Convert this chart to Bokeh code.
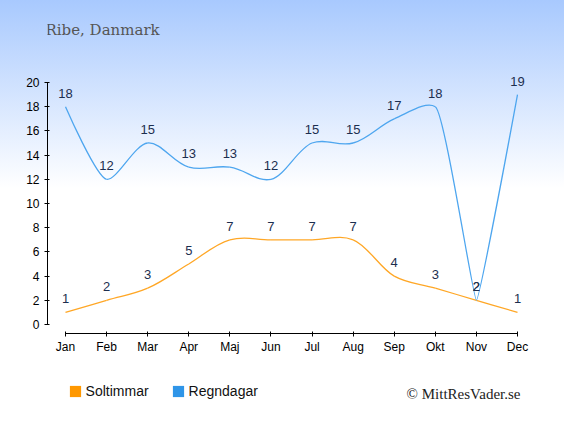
import math
from bokeh.plotting import figure
from bokeh.layouts import column
from bokeh.models import (FixedTicker, Legend, LegendItem, ColumnDataSource, Range1d, Label)
from bokeh.core.properties import value
from bokeh.embed import file_html
from bokeh.resources import INLINE

# ---- data ----
months = ["Jan", "Feb", "Mar", "Apr", "Maj", "Jun", "Jul", "Aug", "Sep", "Okt", "Nov", "Dec"]
soltimmar = [1, 2, 3, 5, 7, 7, 7, 7, 4, 3, 2, 1]
regndagar = [18, 12, 15, 13, 13, 12, 15, 15, 17, 18, 2, 19]
y_ticks = list(range(0, 21, 2))
title_text = "Ribe, Danmark"
credit_text = "\u00a9 MittResVader.se"
series_names = ["Soltimmar", "Regndagar"]

# ---- layout ----
W, H = 564, 419
H1 = 358                 # main chart canvas
H2 = H - H1              # legend / credit strip
FL, FR, FB = 47, 535, 333
PX_M = 452 / 11.0        # px per month
PX_U = 12.1              # px per unit
x0 = -18 / PX_M
x1 = 11 + 18 / PX_M
y0 = -(FB - 324) / PX_U
y1 = 324 / PX_U

p = figure(width=W, height=H1, output_backend="svg", toolbar_location=None,
           x_range=Range1d(x0, x1), y_range=Range1d(y0, y1),
           min_border_left=FL, min_border_right=W - FR,
           min_border_top=0, min_border_bottom=H1 - FB)
p.background_fill_alpha = 0
p.border_fill_alpha = 0
p.outline_line_color = None
p.xgrid.visible = False
p.ygrid.visible = False


def unit(ax, ay, bx, by):
    dx, dy = bx - ax, by - ay
    d = math.hypot(dx, dy)
    return (dx / d, dy / d) if d else (0.0, 0.0)


def spline_segments(ys):
    # smoothing as in the original chart: arms along neighbouring segment directions
    xs = list(range(len(ys)))
    px = [x * PX_M for x in xs]
    py = [y * PX_U for y in ys]
    force = PX_M / 5.0
    n = len(xs)
    seg = dict(x0=[], y0=[], x1=[], y1=[], cx0=[], cy0=[], cx1=[], cy1=[])
    for i in range(1, n):
        a, b = i - 1, i
        u = unit(px[a], py[a], px[b], py[b])
        if a == 0:
            c1 = (px[a], py[a])
        else:
            up = unit(px[a - 1], py[a - 1], px[a], py[a])
            c1 = (px[a] + force * (u[0] + up[0]), py[a] + force * (u[1] + up[1]))
        if b == n - 1:
            c2 = (px[b], py[b])
        else:
            un = unit(px[b], py[b], px[b + 1], py[b + 1])
            c2 = (px[b] - force * (u[0] + un[0]), py[b] - force * (u[1] + un[1]))
        seg["x0"].append(xs[a]); seg["y0"].append(ys[a])
        seg["x1"].append(xs[b]); seg["y1"].append(ys[b])
        seg["cx0"].append(c1[0] / PX_M); seg["cy0"].append(c1[1] / PX_U)
        seg["cx1"].append(c2[0] / PX_M); seg["cy1"].append(c2[1] / PX_U)
    return ColumnDataSource(seg)


colors_line = ["#ffa726", "#4ea6ef"]
colors_key = ["#ff9800", "#2f95e8"]
for ys, color in zip((soltimmar, regndagar), colors_line):
    p.bezier(x0="x0", y0="y0", x1="x1", y1="y1", cx0="cx0", cy0="cy0",
             cx1="cx1", cy1="cy1", source=spline_segments(ys),
             line_color=color, line_width=1.3)

for ys in (soltimmar, regndagar):
    p.text(x=list(range(len(ys))), y=ys, text=[str(v) for v in ys],
           text_align="center", text_baseline="middle", y_offset=-13.5,
           text_font=value("Liberation Sans"), text_font_size="13px",
           text_color="#1c2e4f")

# title (inside the frame, which reaches the top of the canvas)
p.add_layout(Label(x=-2, y=FB - 29.5, x_units="screen", y_units="screen", text=title_text,
                   text_font="DejaVu Serif", text_font_size="15px",
                   text_color="#555555", text_baseline="alphabetic"))

# axes
xa = p.xaxis[0]
xa.ticker = FixedTicker(ticks=list(range(len(months))))
xa.major_label_overrides = {i: m for i, m in enumerate(months)}
xa.bounds = (0, len(months) - 1)
ya = p.yaxis[0]
ya.ticker = FixedTicker(ticks=y_ticks)
ya.bounds = (0, 20)
for ax in (xa, ya):
    ax.axis_line_color = "#000000"
    ax.major_tick_line_color = "#000000"
    ax.major_tick_in = 2
    ax.major_tick_out = 3
    ax.minor_tick_line_color = None
    ax.major_label_text_font = "Liberation Sans"
    ax.major_label_text_font_size = "12px"
    ax.major_label_text_color = "#000000"
xa.major_label_standoff = 3
ya.major_label_standoff = 5

# ---- legend / credit strip (frame aligned with the chart frame) ----
p2 = figure(width=W, height=H2, output_backend="svg", toolbar_location=None,
            x_range=Range1d(0, FR - FL), y_range=Range1d(0, H2),
            x_axis_type=None, y_axis_type=None,
            min_border_left=FL, min_border_right=W - FR, min_border_top=0, min_border_bottom=0)
p2.background_fill_alpha = 0
p2.border_fill_alpha = 0
p2.outline_line_color = None
p2.xgrid.visible = False
p2.ygrid.visible = False

nan = float("nan")
r1 = p2.quad(left=[nan], right=[nan], top=[nan], bottom=[nan],
             fill_color=colors_key[0], line_color=None)
r2 = p2.quad(left=[nan], right=[nan], top=[nan], bottom=[nan],
             fill_color=colors_key[1], line_color=None)
leg = Legend(items=[LegendItem(label=series_names[0], renderers=[r1]),
                    LegendItem(label=series_names[1], renderers=[r2])],
             orientation="horizontal", location=(67.6 - FL, 20.4),
             glyph_width=14, glyph_height=14, label_height=14,
             label_standoff=4, spacing=22, padding=0, margin=0,
             background_fill_alpha=0, border_line_color=None,
             label_text_font="Liberation Sans", label_text_font_size="14px",
             label_text_color="#111111")
p2.add_layout(leg, "center")

p2.add_layout(Label(x=520 - FL, y=H2 - 35, x_units="screen", y_units="screen", text=credit_text,
                    text_font="Liberation Serif", text_font_size="15px",
                    text_color="#222222", text_align="right", text_baseline="alphabetic"))

page = column(p, p2, spacing=0)
page.styles = {"background": "linear-gradient(to bottom, #a8c9fe 0%, #ffffff 45%)"}

open("out.html", "w").write(file_html(page, INLINE))
